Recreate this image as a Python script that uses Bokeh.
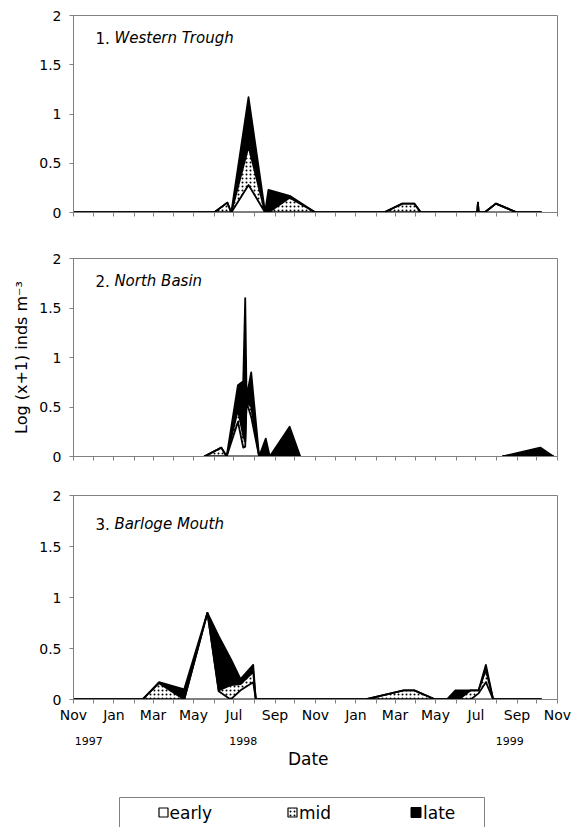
import numpy as np
import pandas as pd
from bokeh.plotting import figure
from bokeh.layouts import column
from bokeh.models import Range1d, FixedTicker, LinearAxis, Label, NumeralTickFormatter, ColumnDataSource
from bokeh.core.properties import value
from bokeh.embed import file_html
from bokeh.resources import INLINE

# ---------------- data ----------------
ORIGIN = "1997-11-01"
END = "1999-11-01"

month_tick_labels = ["Nov", "Jan", "Mar", "May", "Jul", "Sep", "Nov",
                     "Jan", "Mar", "May", "Jul", "Sep", "Nov"]
year_labels = ["1997", "1998", "1999"]
year_label_dates = ["1997-11-24", "1998-07-15", "1999-08-21"]
series_names = ["early", "mid", "late"]

# Panel 1 - Western Trough
p1_dates = ["1997-11-01", "1997-12-01", "1998-01-01", "1998-02-01", "1998-03-01",
            "1998-04-01", "1998-05-01", "1998-06-01", "1998-06-21", "1998-06-27",
            "1998-07-23", "1998-08-17", "1998-08-22", "1998-09-23", "1998-11-01",
            "1998-12-01", "1999-01-01", "1999-02-12", "1999-03-12", "1999-03-30",
            "1999-04-09", "1999-05-01", "1999-06-01", "1999-07-03", "1999-07-04",
            "1999-07-05", "1999-07-14", "1999-07-31", "1999-09-01", "1999-10-08"]
p1_early = [0, 0, 0, 0, 0, 0, 0, 0, 0, 0,
            0.28, 0, 0, 0, 0, 0, 0, 0, 0, 0,
            0, 0, 0, 0, 0.10, 0, 0, 0.09, 0, 0]
p1_mid = [0, 0, 0, 0, 0, 0, 0, 0, 0.10, 0,
          0.39, 0, 0, 0.15, 0, 0, 0, 0, 0.09, 0.09,
          0, 0, 0, 0, 0, 0, 0, 0, 0, 0]
p1_late = [0, 0, 0, 0, 0, 0, 0, 0, 0, 0,
           0.50, 0, 0.23, 0.02, 0, 0, 0, 0, 0, 0,
           0, 0, 0, 0, 0, 0, 0, 0, 0, 0]

# Panel 2 - North Basin (two sampled stretches)
p2a_dates = ["1998-05-17", "1998-06-12", "1998-06-20", "1998-07-07", "1998-07-15",
             "1998-07-18", "1998-07-20", "1998-07-27", "1998-08-08", "1998-08-18",
             "1998-08-24", "1998-09-23", "1998-10-09"]
p2a_early = [0, 0, 0, 0.35, 0.09, 0.10, 0.55, 0.40, 0, 0, 0, 0, 0]
p2a_mid = [0, 0.09, 0, 0.12, 0.12, 0.05, 0.0, 0.10, 0, 0, 0, 0, 0]
p2a_late = [0, 0, 0, 0.25, 0.55, 1.45, 0.05, 0.35, 0, 0.18, 0, 0.30, 0]
p2b_dates = ["1999-08-10", "1999-10-06", "1999-10-26"]
p2b_early = [0, 0, 0]
p2b_mid = [0, 0, 0]
p2b_late = [0, 0.09, 0]

# Panel 3 - Barloge Mouth
p3_dates = ["1997-11-01", "1997-12-01", "1998-01-01", "1998-02-13", "1998-03-10",
            "1998-04-17", "1998-05-22", "1998-06-08", "1998-06-26", "1998-07-11",
            "1998-07-30", "1998-08-03", "1998-09-01", "1998-10-01", "1998-11-01",
            "1998-12-01", "1999-01-15", "1999-03-14", "1999-03-30", "1999-05-01",
            "1999-05-18", "1999-05-31", "1999-06-05", "1999-06-23", "1999-07-05",
            "1999-07-16", "1999-07-27", "1999-09-01", "1999-10-08"]
p3_early = [0, 0, 0, 0, 0, 0, 0.85, 0.08, 0, 0.09,
            0.17, 0, 0, 0, 0, 0, 0, 0, 0, 0,
            0, 0, 0, 0, 0.06, 0.17, 0, 0, 0]
p3_mid = [0, 0, 0, 0, 0.16, 0, 0, 0.01, 0.14, 0.06,
          0.10, 0, 0, 0, 0, 0, 0, 0.09, 0.09, 0,
          0, 0, 0, 0.09, 0.03, 0.12, 0, 0, 0]
p3_late = [0, 0, 0, 0, 0.01, 0.10, 0, 0.53, 0.26, 0.05,
           0.07, 0, 0, 0, 0, 0, 0, 0, 0, 0,
           0, 0.09, 0.09, 0, 0, 0.05, 0, 0, 0]

# ---------------- helpers ----------------
FONT = "DejaVu Sans"
GRAY = "#808080"
T0 = pd.Timestamp(ORIGIN)
LEFT = 73
FRAME_W = 484
RIGHT = 15


def days(dates):
    d = pd.to_datetime(pd.Series(dates))
    return ((d - T0) / pd.Timedelta(days=1)).to_numpy(dtype=float)


month_ticks = [float(v) for v in days(pd.date_range(ORIGIN, END, freq="MS"))]
label_ticks = [float(v) for v in days(pd.date_range(ORIGIN, END, freq="2MS"))]
X_END = month_ticks[-1]


def draw_series(p, dates, e, m, l):
    x = days(dates)
    e = np.asarray(e, float)
    m = np.asarray(m, float)
    l = np.asarray(l, float)
    c1 = e
    c2 = e + m
    c3 = e + m + l
    src = ColumnDataSource(dict(x=x, z=np.zeros_like(x), c1=c1, c2=c2, c3=c3))
    p.varea(x="x", y1="z", y2="c1", source=src, fill_color="white")
    p.varea(x="x", y1="c1", y2="c2", source=src, fill_color="white",
            hatch_pattern="dot", hatch_color="black", hatch_scale=4, hatch_weight=0.9)
    p.varea(x="x", y1="c2", y2="c3", source=src, fill_color="black")
    for col in ["z", "c1", "c2", "c3"]:
        p.line(x="x", y=col, source=src, line_color="black", line_width=1.8,
               line_join="round")


def make_panel(frame_h, top, bottom, show_labels):
    p = figure(frame_width=FRAME_W, frame_height=frame_h,
               x_range=Range1d(0, X_END), y_range=Range1d(0, 2),
               output_backend="svg", toolbar_location=None,
               min_border_left=LEFT, min_border_right=RIGHT,
               min_border_top=top, min_border_bottom=bottom,
               background_fill_color="white", border_fill_color="white")
    p.xgrid.visible = False
    p.ygrid.visible = False
    p.outline_line_color = GRAY
    p.outline_line_width = 1
    # y axis
    p.yaxis.ticker = FixedTicker(ticks=[0, 0.5, 1, 1.5, 2])
    p.yaxis.formatter = NumeralTickFormatter(format="0.[0]")
    p.yaxis.major_tick_out = 4
    p.yaxis.major_tick_in = 0
    p.yaxis.minor_tick_line_color = None
    p.yaxis.axis_line_color = GRAY
    p.yaxis.major_tick_line_color = GRAY
    p.yaxis.major_label_text_font = FONT
    p.yaxis.major_label_text_font_size = "14px"
    p.yaxis.major_label_text_color = "black"
    p.yaxis.major_label_standoff = 8
    # x axis
    p.xaxis.ticker = FixedTicker(ticks=month_ticks)
    p.xaxis.major_tick_out = 4
    p.xaxis.major_tick_in = 0
    p.xaxis.minor_tick_line_color = None
    p.xaxis.axis_line_color = GRAY
    p.xaxis.major_tick_line_color = GRAY
    p.xaxis.major_label_text_font = FONT
    p.xaxis.major_label_text_font_size = "14px"
    p.xaxis.major_label_text_color = "black"
    p.xaxis.major_label_standoff = 3
    overrides = {t: "" for t in month_ticks}
    if show_labels:
        for t, lab in zip(label_ticks, month_tick_labels):
            overrides[t] = lab
    p.xaxis.major_label_overrides = overrides
    return p


def add_title(p, num, name, y):
    x0 = 33.0
    p.add_layout(Label(x=x0, y=y, text=num, text_font=FONT, text_font_size="15px",
                       text_baseline="middle", text_color="black"))
    p.add_layout(Label(x=x0, y=y, x_offset=19.0, text=name, text_font=FONT,
                       text_font_size="15px", text_font_style="italic",
                       text_baseline="middle", text_color="black"))


# ---------------- panels ----------------
p1 = make_panel(197, 15, 23, False)
draw_series(p1, p1_dates, p1_early, p1_mid, p1_late)
add_title(p1, "1.", "Western Trough", 1.77)

p2 = make_panel(198, 23, 20, False)
draw_series(p2, p2a_dates, p2a_early, p2a_mid, p2a_late)
draw_series(p2, p2b_dates, p2b_early, p2b_mid, p2b_late)
add_title(p2, "2.", "North Basin", 1.77)
p2.yaxis.axis_label = "Log (x+1) inds m\u207b\u00b3"
p2.yaxis.axis_label_text_font = FONT
p2.yaxis.axis_label_text_font_size = "16px"
p2.yaxis.axis_label_text_font_style = "normal"
p2.yaxis.axis_label_text_color = "black"
p2.yaxis.axis_label_standoff = 5

p3 = make_panel(204, 19, 86, True)
draw_series(p3, p3_dates, p3_early, p3_mid, p3_late)
add_title(p3, "3.", "Barloge Mouth", 1.72)

yr_ticks = [float(v) for v in days(year_label_dates)]
yr_axis = LinearAxis(ticker=FixedTicker(ticks=yr_ticks),
                     major_label_overrides={t: s for t, s in zip(yr_ticks, year_labels)},
                     major_tick_out=0, major_tick_in=0, minor_tick_line_color=None,
                     axis_line_color=None, major_tick_line_color=None,
                     major_label_standoff=11, major_label_text_font=FONT,
                     major_label_text_font_size="11px", major_label_text_color="black")
p3.add_layout(yr_axis, "below")
date_tick = float(days(["1998-10-21"])[0])
date_axis = LinearAxis(ticker=FixedTicker(ticks=[date_tick]),
                       major_label_overrides={date_tick: "Date"},
                       major_tick_out=0, major_tick_in=0, minor_tick_line_color=None,
                       axis_line_color=None, major_tick_line_color=None,
                       major_label_standoff=1, major_label_text_font=FONT,
                       major_label_text_font_size="17px", major_label_text_color="black")
p3.add_layout(date_axis, "below")

# ---------------- legend strip (page-pixel x coordinates) ----------------
LH = 42
p4 = figure(frame_width=FRAME_W, frame_height=LH,
            x_range=Range1d(LEFT, LEFT + FRAME_W), y_range=Range1d(0, LH),
            output_backend="svg", toolbar_location=None,
            min_border_left=LEFT, min_border_right=RIGHT, min_border_top=0,
            min_border_bottom=0, x_axis_type=None, y_axis_type=None,
            outline_line_color=None)
p4.xgrid.visible = False
p4.ygrid.visible = False
p4.line(x=[119, 119, 484, 484], y=[0, 30, 30, 0], line_color=GRAY, line_width=1)
icon_x = [163, 292, 415.5]
text_x = [169, 298.5, 422.5]
p4.rect(x=icon_x[0], y=15, width=9, height=9, fill_color="white", line_color="black", line_width=1.2)
p4.rect(x=icon_x[1], y=15, width=9, height=9, fill_color="white", line_color="black", line_width=1.2,
        hatch_pattern="dot", hatch_color="black", hatch_scale=4, hatch_weight=0.8)
p4.rect(x=icon_x[2], y=15, width=10, height=10, fill_color="black", line_color="black")
p4.text(x=text_x, y=[15, 15, 15], text=series_names, text_font=value(FONT),
        text_font_size="17px", text_baseline="middle", text_color="black")

layout = column(p1, p2, p3, p4, spacing=0)
open("out.html", "w").write(file_html(layout, INLINE))
